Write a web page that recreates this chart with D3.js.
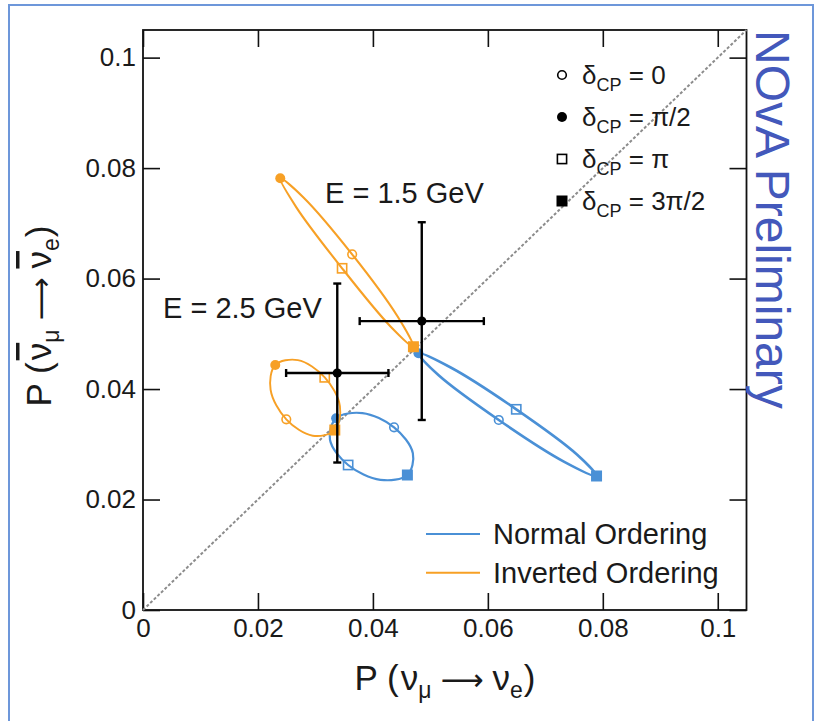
<!DOCTYPE html>
<html>
<head>
<meta charset="utf-8">
<script src="https://cdn.jsdelivr.net/npm/d3@7"></script>
<style>
  body { margin: 0; background: #fff; }
  svg { display: block; font-family: "Liberation Sans", Arial, sans-serif; }
</style>
</head>
<body>
<script>
// outline points of each ellipse, delta = 0, 45, 90, ... 315 degrees
const deltaDeg = [0, 45, 90, 135, 180, 225, 270, 315];
const no15X = [0.0619, 0.05139, 0.04792, 0.05354, 0.06494, 0.07545, 0.07891, 0.0733];
const no15Y = [0.0344, 0.04254, 0.04647, 0.0439, 0.03633, 0.0282, 0.02426, 0.02683];
const no25X = [0.04368, 0.03818, 0.0336, 0.03253, 0.03569, 0.0413, 0.046, 0.04695];
const no25Y = [0.03307, 0.03565, 0.0347, 0.03083, 0.02625, 0.02357, 0.02444, 0.02839];
const io15X = [0.03639, 0.02792, 0.02388, 0.02668, 0.03464, 0.04306, 0.04705, 0.0443];
const io15Y = [0.06439, 0.07469, 0.07815, 0.0729, 0.06186, 0.05134, 0.04766, 0.05313];
const io25X = [0.02493, 0.0222, 0.02301, 0.02694, 0.03162, 0.03426, 0.03337, 0.02953];
const io25Y = [0.03452, 0.03987, 0.04435, 0.04524, 0.04212, 0.03692, 0.03258, 0.03155];

// measured points with errors
const measX = [0.0485, 0.0338];
const measY = [0.0523, 0.0429];
const measXErr = [0.0108, 0.0089];
const measYErr = [0.0179, 0.0162];

const deltaLabels = ['0', 'π/2', 'π', '3π/2'];
const orderings = ['Normal Ordering', 'Inverted Ordering'];
const energyLabels = ['E = 1.5 GeV', 'E = 2.5 GeV'];
const majorTicks = [0, 0.02, 0.04, 0.06, 0.08, 0.1];
const minorTicks = d3.range(0, 0.1051, 0.005);

const blue = '#4a90d6';
const orange = '#f7a025';

const svg = d3.select('body').append('svg')
    .attr('width', 821)
    .attr('height', 721);

// outer box
svg.append('rect')
    .attr('x', 9).attr('y', 5)
    .attr('width', 804).attr('height', 730)
    .attr('fill', 'none')
    .attr('stroke', '#6d97da')
    .attr('stroke-width', 2);

const x = d3.scaleLinear().domain([0, 0.105]).range([143, 746.5]);
const y = d3.scaleLinear().domain([0, 0.105]).range([610, 30]);

const fmt = d => d === 0 ? '0' : d3.format('.2~f')(d);

// axes, ticks inside the frame
const gx = svg.append('g').attr('transform', `translate(0,${y(0)})`);
gx.call(d3.axisBottom(x).tickValues(minorTicks).tickSize(-10).tickSizeOuter(0).tickFormat(''));
gx.call(d3.axisBottom(x).tickValues(majorTicks).tickSize(-17).tickSizeOuter(0).tickPadding(9).tickFormat(fmt));
const gy = svg.append('g').attr('transform', `translate(${x(0)},0)`);
gy.call(d3.axisLeft(y).tickValues(minorTicks).tickSize(-10).tickSizeOuter(0).tickFormat(''));
gy.call(d3.axisLeft(y).tickValues(majorTicks).tickSize(-17).tickSizeOuter(0).tickPadding(7).tickFormat(fmt));
const gt = svg.append('g').attr('transform', `translate(0,${y(0.105)})`);
gt.call(d3.axisTop(x).tickValues(minorTicks).tickSize(-10).tickSizeOuter(0).tickFormat(''));
gt.call(d3.axisTop(x).tickValues(majorTicks).tickSize(-17).tickSizeOuter(0).tickFormat(''));
const gr = svg.append('g').attr('transform', `translate(${x(0.105)},0)`);
gr.call(d3.axisRight(y).tickValues(minorTicks).tickSize(-10).tickSizeOuter(0).tickFormat(''));
gr.call(d3.axisRight(y).tickValues(majorTicks).tickSize(-17).tickSizeOuter(0).tickFormat(''));

svg.selectAll('.domain').remove();
svg.selectAll('.tick line').attr('stroke', '#111').attr('stroke-width', 1.6);
svg.selectAll('.tick text')
    .attr('font-size', 26)
    .attr('font-family', '"Liberation Sans", Arial, sans-serif')
    .attr('fill', '#1a1a1a');

svg.append('rect')
    .attr('x', x(0)).attr('y', y(0.105))
    .attr('width', x(0.105) - x(0)).attr('height', y(0) - y(0.105))
    .attr('fill', 'none')
    .attr('stroke', '#111')
    .attr('stroke-width', 1.8);

// diagonal P = Pbar
svg.append('line')
    .attr('x1', x(0)).attr('y1', y(0))
    .attr('x2', x(0.105)).attr('y2', y(0.105))
    .attr('stroke', '#8c8c8c')
    .attr('stroke-width', 2)
    .attr('stroke-dasharray', '3,2');

const line = d3.line()
    .x(d => x(d[0]))
    .y(d => y(d[1]))
    .curve(d3.curveCatmullRomClosed.alpha(0.5));

function marker(g, kind, cx, cy, color, s) {
    if (kind === 0) {
        g.append('circle').attr('cx', cx).attr('cy', cy).attr('r', 4.3 * s)
            .attr('fill', 'none').attr('stroke', color).attr('stroke-width', 1.6);
    } else if (kind === 1) {
        g.append('circle').attr('cx', cx).attr('cy', cy).attr('r', 5 * s).attr('fill', color);
    } else if (kind === 2) {
        g.append('rect').attr('x', cx - 4.6 * s).attr('y', cy - 4.6 * s)
            .attr('width', 9.2 * s).attr('height', 9.2 * s)
            .attr('fill', 'none').attr('stroke', color).attr('stroke-width', 1.6);
    } else {
        g.append('rect').attr('x', cx - 5.5 * s).attr('y', cy - 5.5 * s)
            .attr('width', 11 * s).attr('height', 11 * s).attr('fill', color);
    }
}

const ellipses = [
    { xs: no15X, ys: no15Y, color: blue, w: 2.6 },
    { xs: no25X, ys: no25Y, color: blue, w: 2.2 },
    { xs: io15X, ys: io15Y, color: orange, w: 2.1 },
    { xs: io25X, ys: io25Y, color: orange, w: 1.9 }
];

ellipses.forEach(e => {
    const pts = deltaDeg.map((d, i) => [e.xs[i], e.ys[i]]);
    svg.append('path')
        .attr('d', line(pts))
        .attr('fill', 'none')
        .attr('stroke', e.color)
        .attr('stroke-width', e.w);
    const g = svg.append('g');
    [0, 2, 4, 6].forEach((idx, k) => {
        marker(g, k, x(e.xs[idx]), y(e.ys[idx]), e.color, 1);
    });
});

// measured points
const gm = svg.append('g').attr('stroke', '#000').attr('stroke-width', 2.4);
measX.forEach((mx, i) => {
    const cx = x(mx), cy = y(measY[i]);
    const x0 = x(mx - measXErr[i]), x1 = x(mx + measXErr[i]);
    const y0 = y(measY[i] - measYErr[i]), y1 = y(measY[i] + measYErr[i]);
    gm.append('line').attr('x1', x0).attr('x2', x1).attr('y1', cy).attr('y2', cy);
    gm.append('line').attr('x1', cx).attr('x2', cx).attr('y1', y0).attr('y2', y1);
    gm.append('line').attr('x1', x0).attr('x2', x0).attr('y1', cy - 4).attr('y2', cy + 4);
    gm.append('line').attr('x1', x1).attr('x2', x1).attr('y1', cy - 4).attr('y2', cy + 4);
    gm.append('line').attr('x1', cx - 4).attr('x2', cx + 4).attr('y1', y0).attr('y2', y0);
    gm.append('line').attr('x1', cx - 4).attr('x2', cx + 4).attr('y1', y1).attr('y2', y1);
    gm.append('circle').attr('cx', cx).attr('cy', cy).attr('r', 4.6).attr('fill', '#000').attr('stroke', 'none');
});

// energy labels
svg.append('text').attr('x', 325).attr('y', 203)
    .attr('font-size', 29).attr('fill', '#1a1a1a').text(energyLabels[0]);
svg.append('text').attr('x', 163).attr('y', 318)
    .attr('font-size', 29).attr('fill', '#1a1a1a').text(energyLabels[1]);

// delta legend
const gl = svg.append('g');
deltaLabels.forEach((lab, i) => {
    const cy = 75 + i * 42;
    marker(gl, i, 562, cy, '#000', 1);
    const t = gl.append('text').attr('x', 582).attr('y', cy + 9)
        .attr('font-size', 26).attr('fill', '#1a1a1a');
    t.append('tspan').text('δ');
    t.append('tspan').attr('font-size', 18).attr('dy', 7).text('CP');
    t.append('tspan').attr('dy', -7).text(' = ' + lab);
});

// ordering legend
orderings.forEach((lab, i) => {
    const ly = 534 + i * 38.7;
    svg.append('line').attr('x1', 426).attr('x2', 480).attr('y1', ly).attr('y2', ly)
        .attr('stroke', i === 0 ? blue : orange).attr('stroke-width', 2);
    svg.append('text').attr('x', 493).attr('y', ly + 10)
        .attr('font-size', 29).attr('fill', '#1a1a1a').text(lab);
});

// NOvA Preliminary
svg.append('text')
    .attr('transform', 'translate(756,30) rotate(90)')
    .attr('font-size', 48)
    .attr('fill', '#4358bb')
    .text('NOvA Preliminary');

// axis titles
function axisTitle(t, bar) {
    const nu = dx => {
        const ts = t.append('tspan').attr('dx', dx).text('ν');
        if (bar) ts.style('text-decoration', 'overline');
        return ts;
    };
    t.append('tspan').text('P (');
    nu(2);
    t.append('tspan').attr('font-size', 23).attr('dy', 8).text('μ');
    t.append('tspan').attr('dy', -8).attr('dx', 9)
        .attr('font-family', '"DejaVu Sans", sans-serif').attr('font-size', 30).text('⟶');
    nu(9);
    t.append('tspan').attr('font-size', 23).attr('dy', 8).text('e');
    t.append('tspan').attr('dy', -8).attr('dx', 1).text(')');
}
const xt = svg.append('text')
    .attr('x', 445).attr('y', 690)
    .attr('text-anchor', 'middle')
    .attr('font-size', 35)
    .attr('fill', '#1a1a1a');
axisTitle(xt, false);
const yt = svg.append('text')
    .attr('transform', 'translate(51,316) rotate(-90)')
    .attr('text-anchor', 'middle')
    .attr('font-size', 35)
    .attr('fill', '#1a1a1a');
axisTitle(yt, true);
</script>
</body>
</html>
